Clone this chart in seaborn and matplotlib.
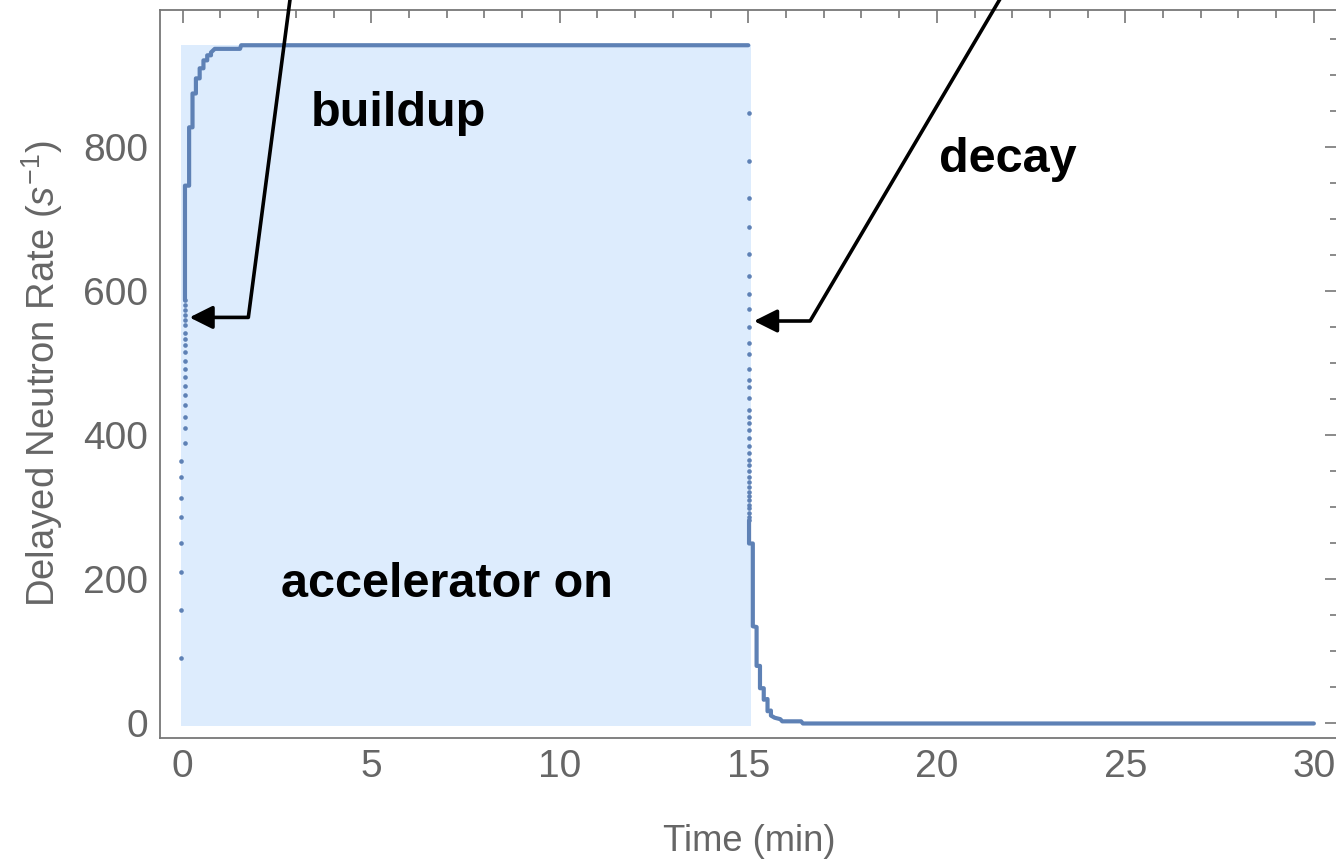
import matplotlib
matplotlib.use('Agg')
import matplotlib.pyplot as plt
from matplotlib.ticker import MultipleLocator
import seaborn as sns

# sparse dots on the steep rise right after the accelerator turns on (t in min)
rise_t = [-0.04] * 8 + [0.06] * 19
rise_rate = [91, 158, 210, 251, 287, 313, 343, 364,
             390, 411, 426, 442, 456, 469, 481, 492, 504, 516, 525,
             534, 543, 553, 560, 567, 574, 581, 588]

# sparse dots on the drop after switch-off
fall_t = [15.02] * 36
fall_rate = [848, 781, 730, 689, 652, 622, 596, 575, 550, 529, 513, 493,
             477, 468, 452, 436, 426, 417, 407, 396, 386, 376, 366, 359,
             351, 343, 336, 329, 322, 316, 310, 304, 299, 293, 287, 282]

# dense part of the buildup, drawn as a stepped trace
build_t = [0.06, 0.06, 0.17, 0.17, 0.26, 0.26, 0.35, 0.35, 0.45, 0.45,
           0.55, 0.55, 0.65, 0.65, 0.75, 0.75, 0.85, 1.52, 1.55, 15.0]
build_rate = [588, 747, 747, 828, 828, 875, 875, 896, 896, 910,
              910, 921, 921, 928, 928, 932, 937, 937, 942, 942]

# dense part of the decay
decay_t = [15.02, 15.02, 15.12, 15.12, 15.22, 15.22, 15.31, 15.31, 15.41, 15.41,
           15.51, 15.51, 15.60, 15.60, 15.70, 15.85, 15.90, 16.40, 16.45, 30.0]
decay_rate = [282, 250, 250, 135, 134, 80, 80, 49, 49, 33,
              34, 17, 18, 11, 8, 6, 3, 3, 0, 0]

# accelerator-on window
shade_t = [-0.04, 15.06]
shade_low, shade_high = -3, 942

dot_color = '#5E81B5'
frame_color = '#777777'
label_color = '#666666'

sns.set_style('white')
plt.rcParams['font.family'] = ['Liberation Sans', 'DejaVu Sans']
plt.rcParams['mathtext.fontset'] = 'custom'
plt.rcParams['mathtext.rm'] = 'Liberation Sans'
plt.rcParams['mathtext.it'] = 'Liberation Sans:italic'

fig = plt.figure(figsize=(13.36, 8.59), dpi=100)
ax = fig.add_axes([0.1194, 0.1409, 0.8821, 0.8475])

ax.fill_between(shade_t, shade_low, shade_high, color='#DDECFD', lw=0, zorder=0)

sns.lineplot(x=build_t, y=build_rate, sort=False, estimator=None,
             color=dot_color, lw=3, ax=ax, zorder=3)
sns.lineplot(x=decay_t, y=decay_rate, sort=False, estimator=None,
             color=dot_color, lw=3, ax=ax, zorder=3)
sns.scatterplot(x=rise_t, y=rise_rate, color=dot_color, s=11, linewidth=0, ax=ax, zorder=3)
sns.scatterplot(x=fall_t, y=fall_rate, color=dot_color, s=11, linewidth=0, ax=ax, zorder=3)

ax.set_xlim(-0.615, 30.64)
ax.set_ylim(-20.1, 991)

# annotation arrows (start above the frame)
arrow_kw = dict(arrowstyle='-|>,head_length=0.7,head_width=0.35', color='black',
                lw=2.6, shrinkA=0, shrinkB=0, mutation_scale=20)
ax.plot([2.92, 1.74], [1035, 564], color='black', lw=2.6, clip_on=False,
        solid_capstyle='butt', zorder=5)
ax.annotate('', xy=(0.18, 564), xytext=(1.74, 564), arrowprops=arrow_kw,
            annotation_clip=False, zorder=5)
ax.plot([22.0, 16.64], [1035, 559], color='black', lw=2.6, clip_on=False,
        solid_capstyle='butt', zorder=5)
ax.annotate('', xy=(15.15, 559), xytext=(16.64, 559), arrowprops=arrow_kw,
            annotation_clip=False, zorder=5)

txt_kw = dict(fontsize=35, fontweight='bold', color='black', ha='center', va='baseline', zorder=6)
ax.text(5.72, 830, 'buildup', **txt_kw)
ax.text(21.88, 766, 'decay', **txt_kw)
ax.text(7.02, 176, 'accelerator on', **txt_kw)

# Mathematica-like frame
ax.xaxis.set_major_locator(MultipleLocator(5))
ax.xaxis.set_minor_locator(MultipleLocator(1))
ax.yaxis.set_major_locator(MultipleLocator(200))
ax.yaxis.set_minor_locator(MultipleLocator(50))
ax.tick_params(which='both', direction='in', top=True, right=True,
               color=frame_color, width=1.2, labelcolor=label_color, labelsize=28, pad=8)
ax.tick_params(which='major', length=9.5)
ax.tick_params(which='minor', length=5.5)
for sp in ax.spines.values():
    sp.set_color(frame_color)
    sp.set_linewidth(1.3)

ax.set_xlabel('Time (min)', fontsize=26.2, color=label_color)
ax.set_ylabel(r'Delayed Neutron Rate ($s^{-1}$)', fontsize=27.5, color=label_color)
ax.xaxis.set_label_coords(0.5, -0.118)
ax.yaxis.set_label_coords(-0.08, 0.5)

plt.savefig('out.png', dpi=100)
